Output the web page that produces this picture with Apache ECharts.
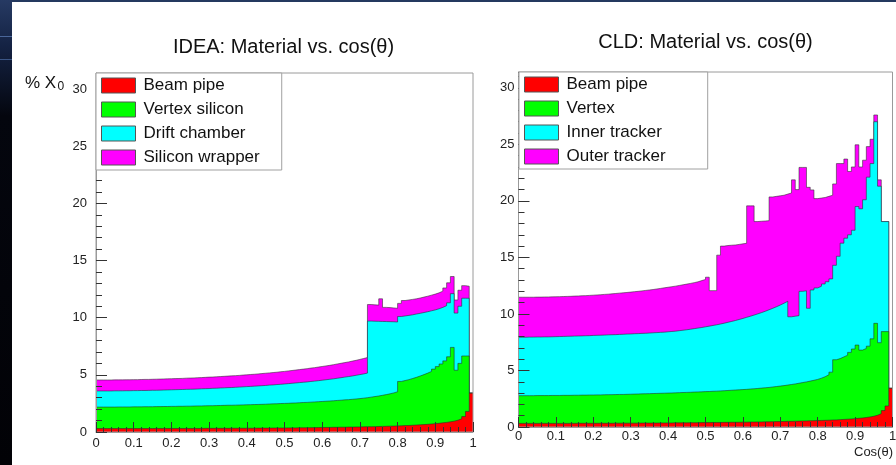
<!DOCTYPE html>
<html>
<head>
<meta charset="utf-8">
<script src="https://cdn.jsdelivr.net/npm/echarts@6/dist/echarts.min.js"></script>
<style>
  html, body { margin: 0; padding: 0; background: #fff; }
  #chart { width: 896px; height: 465px; }
</style>
</head>
<body>
<div id="chart"></div>
<script>
// material budget in % X0, 100 bins in cos(theta) from 0 to 1
// values are the stacked heights (top of each layer)
var nBins = 100;

var ideaNames = ['Beam pipe', 'Vertex silicon', 'Drift chamber', 'Silicon wrapper'];
var cldNames = ['Beam pipe', 'Vertex', 'Inner tracker', 'Outer tracker'];

var ideaPipe = [
  0.30,0.30,0.30,0.30,0.30,0.30,0.30,0.30,0.30,0.30,
  0.30,0.30,0.30,0.30,0.30,0.31,0.31,0.31,0.31,0.31,
  0.31,0.31,0.31,0.31,0.31,0.31,0.31,0.31,0.32,0.32,
  0.32,0.32,0.32,0.32,0.32,0.33,0.33,0.33,0.33,0.33,
  0.33,0.33,0.34,0.34,0.34,0.34,0.35,0.35,0.35,0.35,
  0.36,0.36,0.36,0.37,0.37,0.37,0.38,0.38,0.39,0.39,
  0.40,0.40,0.41,0.41,0.42,0.42,0.43,0.43,0.44,0.44,
  0.45,0.46,0.46,0.47,0.48,0.49,0.50,0.51,0.52,0.53,
  0.54,0.56,0.57,0.59,0.61,0.63,0.65,0.67,0.70,0.73,
  0.76,0.80,0.84,0.89,0.95,1.03,1.15,1.35,1.80,3.40
];
var ideaVertexTop = [
  2.18,2.18,2.18,2.18,2.18,2.19,2.19,2.19,2.19,2.20,
  2.20,2.20,2.21,2.21,2.21,2.22,2.22,2.23,2.23,2.24,
  2.24,2.25,2.25,2.26,2.26,2.27,2.28,2.28,2.29,2.30,
  2.30,2.31,2.32,2.33,2.34,2.34,2.35,2.36,2.37,2.38,
  2.39,2.40,2.41,2.42,2.43,2.45,2.46,2.47,2.49,2.50,
  2.51,2.53,2.54,2.56,2.58,2.59,2.61,2.63,2.65,2.67,
  2.69,2.71,2.73,2.76,2.78,2.81,2.83,2.86,2.89,2.92,
  2.96,3.00,3.05,3.10,3.15,3.21,3.27,3.34,3.42,3.52,
  4.42,4.50,4.58,4.68,4.78,4.90,5.02,5.15,5.30,5.50,
  5.72,5.95,6.22,6.58,7.40,5.40,6.00,6.65,6.65,3.40
];
var ideaDriftTop = [
  3.59,3.59,3.59,3.59,3.60,3.60,3.60,3.61,3.61,3.62,
  3.62,3.63,3.63,3.64,3.65,3.65,3.66,3.67,3.68,3.69,
  3.70,3.71,3.72,3.73,3.74,3.75,3.76,3.78,3.79,3.80,
  3.82,3.83,3.85,3.86,3.88,3.89,3.91,3.93,3.95,3.97,
  3.99,4.01,4.03,4.05,4.07,4.10,4.12,4.15,4.17,4.20,
  4.23,4.26,4.29,4.32,4.35,4.38,4.42,4.45,4.49,4.53,
  4.57,4.61,4.65,4.70,4.75,4.80,4.85,4.90,4.96,5.02,
  5.08,5.15,9.70,9.69,9.68,9.67,9.66,9.65,9.64,9.62,
  10.10,10.15,10.20,10.25,10.32,10.38,10.45,10.52,10.60,10.68,
  10.78,10.90,11.05,11.30,12.10,10.40,11.00,11.70,11.70,3.40
];
var ideaWrapperTop = [
  4.55,4.55,4.55,4.55,4.56,4.56,4.56,4.57,4.57,4.58,
  4.58,4.59,4.60,4.60,4.61,4.62,4.63,4.64,4.65,4.66,
  4.67,4.68,4.69,4.71,4.72,4.73,4.75,4.76,4.78,4.80,
  4.81,4.83,4.85,4.87,4.89,4.91,4.93,4.95,4.98,5.00,
  5.03,5.05,5.08,5.11,5.14,5.17,5.20,5.23,5.27,5.30,
  5.34,5.38,5.42,5.46,5.50,5.54,5.59,5.63,5.68,5.73,
  5.78,5.83,5.89,5.95,6.01,6.07,6.13,6.20,6.27,6.35,
  6.43,6.51,11.15,11.12,11.10,11.65,10.90,10.88,10.85,10.82,
  11.25,11.50,11.55,11.60,11.65,11.72,11.80,11.88,11.97,12.06,
  12.17,12.32,12.60,13.05,13.60,11.55,12.40,12.80,12.75,3.40
];

var cldPipe = [
  0.32,0.32,0.32,0.32,0.32,0.32,0.32,0.32,0.32,0.32,
  0.32,0.32,0.32,0.32,0.32,0.33,0.33,0.33,0.33,0.33,
  0.33,0.33,0.33,0.33,0.33,0.34,0.34,0.34,0.34,0.34,
  0.34,0.34,0.35,0.35,0.35,0.35,0.35,0.36,0.36,0.36,
  0.36,0.37,0.37,0.37,0.37,0.38,0.38,0.38,0.39,0.39,
  0.39,0.40,0.40,0.40,0.41,0.41,0.42,0.42,0.42,0.43,
  0.43,0.44,0.44,0.45,0.45,0.46,0.46,0.47,0.48,0.48,
  0.49,0.50,0.50,0.51,0.52,0.53,0.54,0.55,0.56,0.57,
  0.58,0.59,0.60,0.62,0.63,0.65,0.67,0.69,0.71,0.74,
  0.77,0.80,0.84,0.89,0.95,1.04,1.18,1.45,1.86,3.42
];
var cldVertexTop = [
  2.77,2.77,2.77,2.77,2.78,2.78,2.78,2.78,2.79,2.79,
  2.79,2.80,2.80,2.80,2.81,2.81,2.82,2.82,2.83,2.83,
  2.84,2.84,2.85,2.86,2.86,2.87,2.88,2.88,2.89,2.90,
  2.91,2.92,2.93,2.94,2.95,2.96,2.97,2.98,2.99,3.00,
  3.01,3.02,3.04,3.05,3.06,3.07,3.09,3.10,3.11,3.13,
  3.14,3.16,3.17,3.19,3.21,3.23,3.25,3.27,3.29,3.31,
  3.33,3.36,3.38,3.41,3.44,3.47,3.50,3.54,3.58,3.62,
  3.66,3.71,3.76,3.81,3.87,3.93,3.99,4.06,4.13,4.21,
  4.32,4.45,4.62,4.85,5.95,6.05,6.20,6.35,6.60,6.90,
  7.25,6.80,6.95,7.15,7.80,9.17,7.46,8.44,8.44,3.42
];
var cldInnerTop = [
  7.94,7.94,7.95,7.95,7.96,7.96,7.97,7.97,7.98,7.99,
  8.00,8.01,8.02,8.03,8.04,8.05,8.06,8.07,8.08,8.10,
  8.11,8.12,8.13,8.15,8.16,8.17,8.19,8.20,8.22,8.23,
  8.25,8.26,8.28,8.29,8.31,8.33,8.35,8.37,8.39,8.42,
  8.45,8.48,8.52,8.56,8.60,8.65,8.70,8.75,8.80,8.86,
  8.92,8.98,9.04,9.11,9.18,9.26,9.34,9.42,9.51,9.60,
  9.70,9.80,9.90,10.01,10.12,10.24,10.37,10.50,10.64,10.79,
  10.95,11.12,9.75,9.80,9.85,12.00,12.05,10.50,12.12,12.30,
  12.45,12.65,12.85,13.10,14.30,15.10,16.26,16.70,17.00,17.40,
  19.50,19.30,20.10,22.10,23.30,27.00,21.30,18.17,18.17,3.42
];
var cldOuterTop = [
  11.48,11.48,11.48,11.48,11.49,11.49,11.50,11.50,11.51,11.52,
  11.53,11.54,11.55,11.56,11.58,11.59,11.61,11.62,11.64,11.66,
  11.68,11.70,11.73,11.75,11.78,11.81,11.84,11.87,11.90,11.93,
  11.97,12.00,12.04,12.08,12.12,12.16,12.21,12.26,12.31,12.36,
  12.41,12.46,12.52,12.58,12.64,12.70,12.77,12.84,12.95,13.05,
  13.25,12.06,12.06,15.20,16.00,16.05,16.08,16.10,16.15,16.20,
  16.25,19.56,19.56,18.17,18.20,18.22,18.25,20.35,20.40,20.45,
  20.50,20.60,20.70,21.86,21.00,22.96,22.96,21.20,20.97,20.20,
  20.25,20.30,20.40,20.50,21.50,23.30,23.30,23.70,22.60,23.00,
  24.96,23.00,23.60,24.80,25.45,27.60,21.86,18.17,18.17,3.42
];

var fillColors = ['#ff0000', '#00ff00', '#00ffff', '#ff00ff'];
var font = "'Liberation Sans', Arial, sans-serif";

// histogram as step line: one point on the low edge of every bin, plus the closing edge
function toSteps(vals) {
  var pts = vals.map(function (v, i) { return [i / nBins, v]; });
  pts.push([1, vals[vals.length - 1]]);
  return pts;
}

function layer(name, top, fill, gi, z) {
  return {
    name: name,
    type: 'line',
    step: 'end',
    symbol: 'none',
    silent: true,
    xAxisIndex: gi * 2,
    yAxisIndex: gi * 2,
    z: z,
    data: toSteps(top),
    itemStyle: { color: fill },
    lineStyle: { color: 'rgba(40,40,40,0.55)', width: 1 },
    areaStyle: { color: fill, opacity: 1 }
  };
}

function gridFor(left, right, top, bottom) {
  return {
    left: left, right: right, top: top, bottom: bottom,
    show: true, z: 10,
    borderColor: '#9a9a9a', borderWidth: 1,
    backgroundColor: 'transparent',
    outerBoundsMode: 'none'
  };
}

function xMajor(gi, margin) {
  return {
    type: 'value', gridIndex: gi, min: 0, max: 1, interval: 0.1, z: 12,
    axisLine: { show: true, lineStyle: { color: '#9a9a9a' } },
    axisTick: { inside: true, length: 10, lineStyle: { color: '#333' } },
    axisLabel: { fontSize: 13, color: '#222', fontFamily: font, margin: margin },
    splitLine: { show: false }
  };
}
function xMinor(gi) {
  return {
    type: 'value', gridIndex: gi, position: 'bottom', min: 0, max: 1, interval: 0.02, z: 12,
    axisLine: { show: false },
    axisTick: { inside: true, length: 5, lineStyle: { color: '#333' } },
    axisLabel: { show: false },
    splitLine: { show: false }
  };
}
function yMajor(gi, margin) {
  return {
    type: 'value', gridIndex: gi, min: 0, max: 31.4, interval: 5, z: 12,
    axisLine: { show: true, lineStyle: { color: '#9a9a9a' } },
    axisTick: { inside: true, length: 11, lineStyle: { color: '#333' } },
    axisLabel: { fontSize: 13, color: '#222', fontFamily: font, margin: margin, showMaxLabel: false },
    splitLine: { show: false }
  };
}
function yMinor(gi) {
  return {
    type: 'value', gridIndex: gi, position: 'left', min: 0, max: 31.4, interval: 1, z: 12,
    axisLine: { show: false },
    axisTick: { inside: true, length: 6, lineStyle: { color: '#333' } },
    axisLabel: { show: false },
    splitLine: { show: false }
  };
}

function legendFor(names, left, top, padRight) {
  return {
    orient: 'vertical', left: left, top: top,
    data: names, icon: 'rect', selectedMode: false,
    itemWidth: 34, itemHeight: 15, itemGap: 7,
    padding: [4, padRight, 4, 5],
    backgroundColor: '#fff', borderColor: '#a0a0a0', borderWidth: 1,
    itemStyle: { borderColor: '#555', borderWidth: 1 },
    textStyle: { fontSize: 17, color: '#111', fontFamily: font, lineHeight: 15, padding: [0, 0, 0, 3] },
    z: 20
  };
}

var series = [];
// drawn like a ROOT THStack: outermost layer first, beam pipe on top
[[ideaWrapperTop, 3], [ideaDriftTop, 2], [ideaVertexTop, 1], [ideaPipe, 0]].forEach(function (d, k) {
  series.push(layer(ideaNames[d[1]], d[0], fillColors[d[1]], 0, 2 + k));
});
[[cldOuterTop, 3], [cldInnerTop, 2], [cldVertexTop, 1], [cldPipe, 0]].forEach(function (d, k) {
  series.push(layer(cldNames[d[1]], d[0], fillColors[d[1]], 1, 2 + k));
});

var chart = echarts.init(document.getElementById('chart'));

chart.setOption({
  animation: false,
  backgroundColor: '#fff',
  grid: [gridFor(96, 423, 73, 33), gridFor(518.5, 3.5, 72, 38)],
  xAxis: [xMajor(0, 5), xMinor(0), xMajor(1, 3), xMinor(1)],
  yAxis: [yMajor(0, 9), yMinor(0), yMajor(1, 4), yMinor(1)],
  legend: [legendFor(ideaNames, 96, 73, 22), legendFor(cldNames, 519, 72, 42)],
  graphic: [
    {
      type: 'rect', left: 0, top: 0, silent: true, z: 0,
      shape: { width: 12, height: 465 },
      style: {
        fill: new echarts.graphic.LinearGradient(0, 0, 0, 1, [
          { offset: 0, color: '#263a63' },
          { offset: 0.1, color: '#142243' },
          { offset: 0.25, color: '#04060e' },
          { offset: 1, color: '#020206' }
        ])
      }
    },
    { type: 'rect', left: 0, top: 36, silent: true, shape: { width: 12, height: 1 }, style: { fill: '#4a6699' } },
    { type: 'rect', left: 0, top: 59, silent: true, shape: { width: 12, height: 1 }, style: { fill: '#3b5585' } },
    { type: 'rect', left: 12, top: 0, silent: true, shape: { width: 884, height: 2 }, style: { fill: '#24395f' } },
    {
      type: 'text', x: 283.5, y: 47, silent: true,
      style: { text: 'IDEA: Material vs. cos(θ)', fontSize: 20, fontFamily: font, fill: '#111', align: 'center', verticalAlign: 'middle' }
    },
    {
      type: 'text', x: 705.5, y: 42, silent: true,
      style: { text: 'CLD: Material vs. cos(θ)', fontSize: 20, fontFamily: font, fill: '#111', align: 'center', verticalAlign: 'middle' }
    },
    {
      type: 'text', x: 25, y: 83, silent: true,
      style: { text: '% X', fontSize: 17, fontFamily: font, fill: '#111', align: 'left', verticalAlign: 'middle' }
    },
    {
      type: 'text', x: 57.5, y: 87, silent: true,
      style: { text: '0', fontSize: 12, fontFamily: font, fill: '#111', align: 'left', verticalAlign: 'middle' }
    },
    {
      type: 'text', x: 893, y: 452, silent: true,
      style: { text: 'Cos(θ)', fontSize: 13, fontFamily: font, fill: '#222', align: 'right', verticalAlign: 'middle' }
    }
  ],
  series: series
});
</script>
</body>
</html>
